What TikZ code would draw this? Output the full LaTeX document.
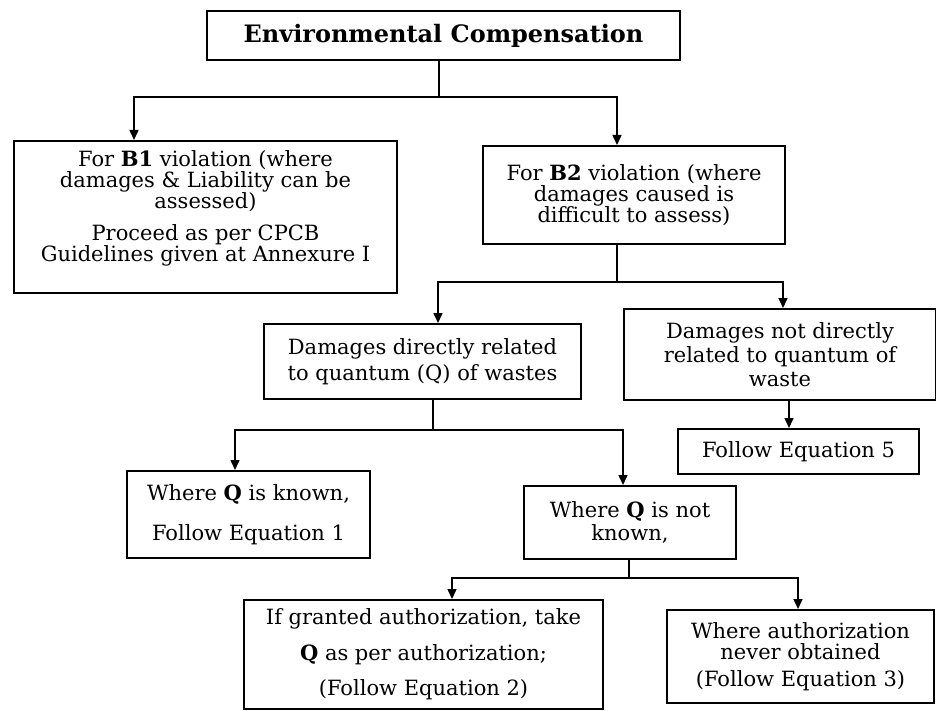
\documentclass[tikz,border=0pt]{standalone}
\usepackage{fontspec}
\setmainfont{DejaVu Serif}
\usetikzlibrary{arrows.meta}
\begin{document}
\begin{tikzpicture}[x=1pt, y=-1pt,
  box/.style={draw, line width=2pt, inner sep=0pt, anchor=north west,
    align=center, font=\fontsize{21}{21}\selectfont},
  link/.style={line width=1.5pt},
  flow/.style={link, -{Triangle[length=10pt,width=9pt]}}]
\useasboundingbox[fill=white] (0,0) rectangle (936,711);

% boxes
\node[box, minimum width=473pt, minimum height=49pt,
      font=\fontsize{24}{24}\selectfont] (top) at (206,10)
  {\textbf{Environmental Compensation}};
\node[box, minimum width=383pt, minimum height=152pt] (b1) at (13,140)
  {For \textbf{B1} violation (where\\ damages \& Liability can be\\ assessed)\\[11pt]
   Proceed as per CPCB\\ Guidelines given at Annexure I\\ \mbox{}};
\node[box, minimum width=302pt, minimum height=98pt] (b2) at (482,145)
  {For \textbf{B2} violation (where\\ damages caused is\\ difficult to assess)};
\node[box, minimum width=317pt, minimum height=75pt] (direct) at (263,323)
  {Damages directly related\\[5pt] to quantum (Q) of wastes};
\node[box, minimum width=312pt, minimum height=91pt] (notdirect) at (623,308)
  {Damages not directly\\[3pt] related to quantum of\\[3pt] waste};
\node[box, minimum width=241pt, minimum height=45pt] (eq5) at (677,428)
  {Follow Equation 5};
\node[box, minimum width=243pt, minimum height=87pt] (known) at (126,470)
  {Where \textbf{Q} is known,\\[19pt] Follow Equation 1};
\node[box, minimum width=212pt, minimum height=73pt] (notknown) at (523,485)
  {Where \textbf{Q} is not\\[2pt] known,};
\node[box, minimum width=359pt, minimum height=109pt] (granted) at (243,599)
  {If granted authorization, take\\[15pt] \textbf{Q} as per authorization;\\[14pt] (Follow Equation 2)};
\node[box, minimum width=267pt, minimum height=93pt] (never) at (666,609)
  {Where authorization\\ never obtained\\[6pt] (Follow Equation 3)};

% entry points of the arrows and branching points
\coordinate (b1in) at (134,140);
\coordinate (b2in) at (617,145);
\coordinate (directin) at (438,323);
\coordinate (notdirectin) at (783,308);
\coordinate (eq5in) at (789,428);
\coordinate (knownin) at (235,470);
\coordinate (notknownin) at (623,485);
\coordinate (grantedin) at (452,599);
\coordinate (neverin) at (798,609);
\coordinate (bus1) at (439,97);
\coordinate (bus2) at (617,282);
\coordinate (bus3) at (433,430);
\coordinate (bus4) at (629,578);

% connectors
\draw[link] (top.south -| bus1) -- (bus1);
\draw[flow] (bus1) -| (b1in);
\draw[flow] (bus1) -| (b2in);

\draw[link] (b2.south -| bus2) -- (bus2);
\draw[flow] (bus2) -| (directin);
\draw[flow] (bus2) -| (notdirectin);

\draw[flow] (notdirect.south -| eq5in) -- (eq5in);

\draw[link] (direct.south -| bus3) -- (bus3);
\draw[flow] (bus3) -| (knownin);
\draw[flow] (bus3) -| (notknownin);

\draw[link] (notknown.south -| bus4) -- (bus4);
\draw[flow] (bus4) -| (grantedin);
\draw[flow] (bus4) -| (neverin);
\end{tikzpicture}
\end{document}
